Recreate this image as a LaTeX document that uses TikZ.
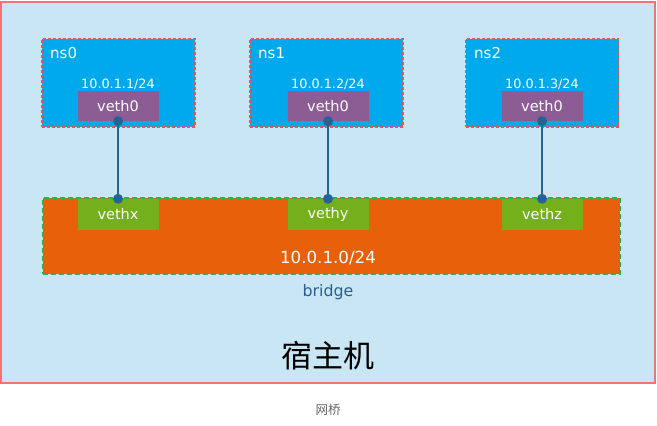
\documentclass[tikz,border=0pt]{standalone}
\usepackage{fontspec}
\setmainfont{DejaVu Sans}
\newfontfamily\cjk{Noto Sans CJK SC}
\usetikzlibrary{positioning}

\definecolor{hostbg}{HTML}{C9E6F4}
\definecolor{hostline}{HTML}{F07474}
\definecolor{nsblue}{HTML}{00A8EC}
\definecolor{nsdash}{HTML}{E8545C}
\definecolor{vethpurple}{HTML}{8C5C94}
\definecolor{bridgeorange}{HTML}{E8600A}
\definecolor{bridgedash}{HTML}{2DAF55}
\definecolor{vethgreen}{HTML}{74AF1C}
\definecolor{wire}{HTML}{25619A}
\definecolor{bridgetext}{HTML}{2A5F8E}

\tikzset{
  nsbox/.style={draw=nsdash,fill=nsblue,line width=1.5pt,dash pattern=on 3pt off 2pt,
    minimum width=153pt,minimum height=88pt,inner sep=0pt},
  vethbox/.style={fill=vethpurple,text=white,font=\fontsize{14.5}{17}\selectfont,
    minimum width=81pt,minimum height=30pt,inner sep=0pt},
  portbox/.style={fill=vethgreen,text=white,font=\fontsize{14.5}{17}\selectfont,
    minimum width=81pt,minimum height=31pt,inner sep=0pt},
  iplabel/.style={text=white,font=\fontsize{12.8}{14}\selectfont,inner sep=1pt},
  nslabel/.style={text=white,font=\fontsize{15}{17}\selectfont,anchor=west,inner sep=0pt},
  link/.style={draw=wire,line width=2pt},
  dot/.style={fill=wire}
}

\begin{document}
\begin{tikzpicture}[x=1pt,y=-1pt]
  \useasboundingbox (0,0) rectangle (657,426);

  % host
  \draw[fill=hostbg,draw=hostline,line width=2pt] (1,2) rectangle (655,383);

  % namespaces
  \node[nsbox] (ns0) at (118.5,83) {};
  \node[nsbox] (ns1) at (326.5,83) {};
  \node[nsbox] (ns2) at (542,83) {};
  \node[nslabel] at (50,53) {ns0};
  \node[nslabel] at (258,53) {ns1};
  \node[nslabel] at (474,53) {ns2};

  % veth0 in each namespace
  \node[vethbox] (veth0a) at (118,106) {veth0};
  \node[vethbox] (veth0b) at (328,106) {veth0};
  \node[vethbox] (veth0c) at (542,106) {veth0};
  \node[iplabel,above=0pt of veth0a] {10.0.1.1/24};
  \node[iplabel,above=0pt of veth0b] {10.0.1.2/24};
  \node[iplabel,above=0pt of veth0c] {10.0.1.3/24};

  % bridge
  \node[draw=bridgedash,fill=bridgeorange,line width=2pt,dash pattern=on 5pt off 3pt,
    minimum width=577pt,minimum height=76pt,inner sep=0pt] (br) at (331,235.5) {};
  \node[portbox] (vethx) at (118,214.5) {vethx};
  \node[portbox] (vethy) at (328,214.5) {vethy};
  \node[portbox] (vethz) at (542,214.5) {vethz};
  \node[text=white,font=\fontsize{16.7}{19}\selectfont] (brip) at (328,258) {10.0.1.0/24};
  \node[text=bridgetext,font=\fontsize{15.8}{18}\selectfont] (brname) at (328,292) {bridge};

  % links
  \foreach \a/\b in {veth0a/vethx,veth0b/vethy,veth0c/vethz}{
    \draw[link] (\a.south) -- (\b.north);
    \fill[dot] (\a.south) circle (5pt);
    \fill[dot] (\b.north) circle (5pt);
  }

  % captions
  \node[font=\cjk\fontsize{31}{34}\selectfont] (host) at (328,356) {宿主机};
  \node[font=\cjk\fontsize{12.5}{14}\selectfont,text=black!60] (cap) at (328,410) {网桥};
\end{tikzpicture}
\end{document}
